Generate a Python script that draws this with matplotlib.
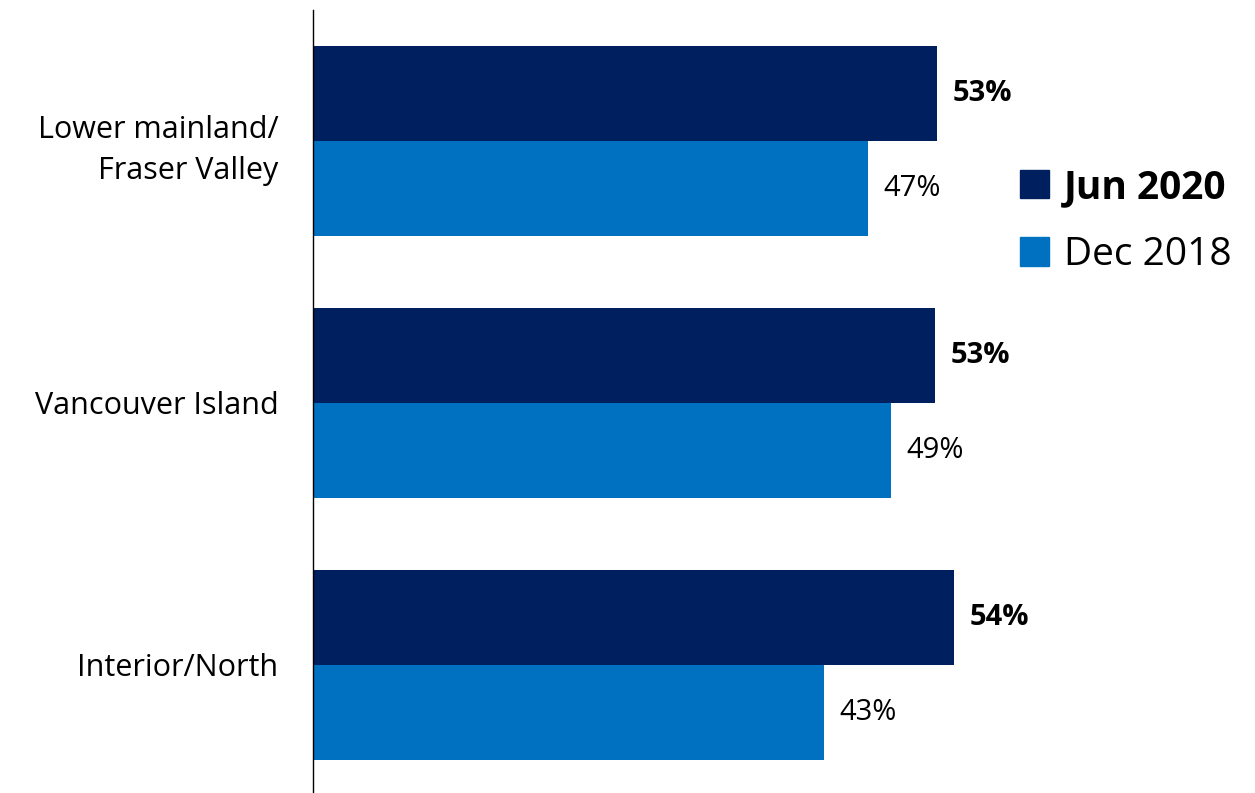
import numpy as np
import matplotlib.pyplot as plt
from matplotlib.patches import Patch

plt.rcParams['font.family'] = ['Open Sans', 'DejaVu Sans']

regions = ['Lower mainland/\nFraser Valley', 'Vancouver Island', 'Interior/North']
jun_2020 = [52.8, 52.6, 54.2]
dec_2018 = [46.9, 48.9, 43.2]
jun_labels = ['53%', '53%', '54%']
dec_labels = ['47%', '49%', '43%']

dark = '#001F5F'
light = '#0070C0'

fig = plt.figure(figsize=(12.55, 7.93), dpi=100)
ax = fig.add_axes([0.2494, 0.0, 0.7068, 0.987])

y = np.arange(len(regions))
h = 0.363
ax.barh(y - h / 2, jun_2020, height=h, color=dark)
ax.barh(y + h / 2, dec_2018, height=h, color=light)

for i in range(len(regions)):
    ax.text(jun_2020[i] + 1.3, y[i] - h / 2, jun_labels[i], va='center', ha='left',
            fontsize=21, fontweight='bold', color='black')
    ax.text(dec_2018[i] + 1.3, y[i] + h / 2, dec_labels[i], va='center', ha='left',
            fontsize=21, color='black')

ax.set_xlim(0, 75)
ax.set_ylim(2.49, -0.5)
ax.set_yticks(y)
ax.set_yticklabels(regions, fontsize=22, ha='right', multialignment='right',
                   linespacing=1.5)
ax.tick_params(axis='y', length=0, pad=25)
ax.set_xticks([])
for s in ['top', 'right', 'bottom']:
    ax.spines[s].set_visible(False)
ax.spines['left'].set_color('black')
ax.spines['left'].set_linewidth(1)

handles = [Patch(color=dark, label='Jun 2020'), Patch(color=light, label='Dec 2018')]
leg = fig.legend(handles=handles, loc='upper left', bbox_to_anchor=(0.8, 0.808),
                 frameon=False, fontsize=28, handlelength=0.75, handleheight=0.75,
                 handletextpad=0.4, labelspacing=0.75, borderaxespad=0)
leg.get_texts()[0].set_fontweight('bold')

plt.savefig('out.png', dpi=100)
